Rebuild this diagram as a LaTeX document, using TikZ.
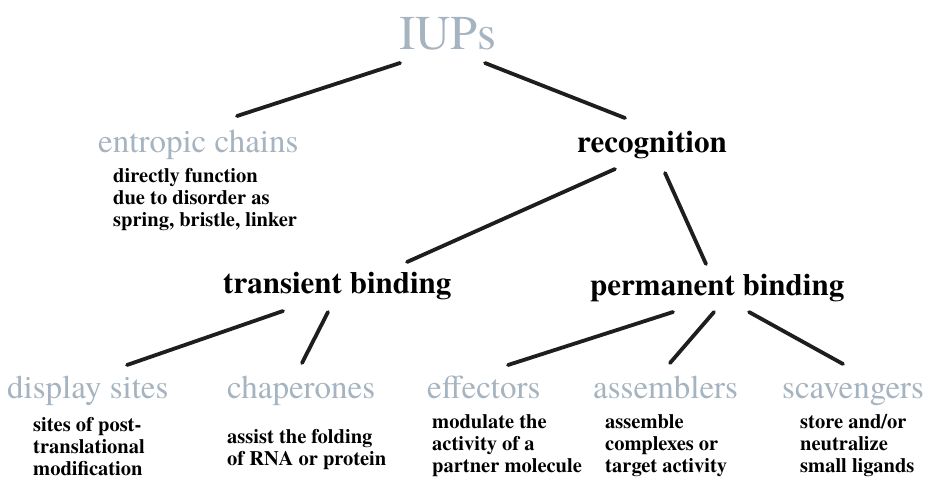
\documentclass[tikz,border=0pt]{standalone}
\usepackage{fontspec}
\setmainfont{texgyretermes}[Extension=.otf, UprightFont=*-regular, BoldFont=*-bold, ItalicFont=*-italic, BoldItalicFont=*-bolditalic]
\definecolor{greyhead}{RGB}{165,180,192}
\definecolor{linecol}{RGB}{30,30,30}
\tikzset{
  greyh/.style={anchor=base west, inner sep=0pt, text=greyhead, font=\fontsize{33}{36}\selectfont},
  boldh/.style={anchor=base west, inner sep=0pt, text=black, font=\fontsize{31}{36}\selectfont\bfseries},
  desc/.style={anchor=north west, inner sep=0pt, align=left, text=black, font=\fontsize{20.5}{22}\selectfont\bfseries},
  conn/.style={draw=linecol, line width=3.8pt, line cap=round}
}
\begin{document}
\begin{tikzpicture}[x=1pt,y=-1pt]
\useasboundingbox (0,0) rectangle (925,479);
\fill[white] (0,0) rectangle (925,479);
% headings
\node[greyh, font=\fontsize{48.5}{52}\selectfont] (iups) at (399,49) {IUPs};
\node[greyh] (ent) at (98,152) {entropic chains};
\node[boldh] (rec) at (577,152) {recognition};
\node[boldh] (trans) at (223,293) {transient binding};
\node[boldh] (perm) at (590,295) {permanent binding};
\node[greyh] (disp) at (7,398) {display sites};
\node[greyh] (chap) at (227,398) {chaperones};
\node[greyh] (eff) at (427,398) {effectors};
\node[greyh] (asm) at (593,398) {assemblers};
\node[greyh] (scav) at (782,398) {scavengers};
% descriptions
\node[desc] (entd) at (113,168.3) {directly function\\due to disorder as\\spring, bristle, linker};
\node[desc] (dispd) at (33,417) {sites of post-\\translational\\modification};
\node[desc] (chapd) at (227,429.3) {assist the folding\\of RNA or protein};
\node[desc] (effd) at (432,414.3) {modulate the\\activity of a\\partner molecule};
\node[desc] (asmd) at (605,414.3) {assemble\\complexes or\\target activity};
\node[desc] (scavd) at (800,414.3) {store and/or\\neutralize\\small ligands};
% connectors
\draw[conn] ([shift={(1,14)}]iups.base west) -- ([shift={(139,-36)}]ent.base west);
\draw[conn] ([shift={(86,14)}]iups.base west) -- ([shift={(48,-34)}]rec.base west);
\draw[conn] ([shift={(38,17)}]rec.base west) -- ([shift={(184,-31)}]trans.base west);
\draw[conn] ([shift={(88,21)}]rec.base west) -- ([shift={(116,-31)}]perm.base west);
\draw[conn] ([shift={(60,18)}]trans.base west) -- ([shift={(120,-33)}]disp.base west);
\draw[conn] ([shift={(105,19)}]trans.base west) -- ([shift={(75,-35)}]chap.base west);
\draw[conn] ([shift={(83,17)}]perm.base west) -- ([shift={(81,-33)}]eff.base west);
\draw[conn] ([shift={(124,17)}]perm.base west) -- ([shift={(77,-35)}]asm.base west);
\draw[conn] ([shift={(159,17)}]perm.base west) -- ([shift={(61,-34)}]scav.base west);
\end{tikzpicture}
\end{document}
